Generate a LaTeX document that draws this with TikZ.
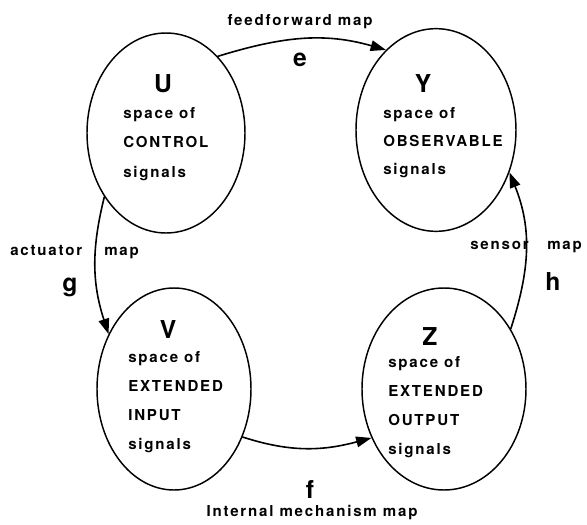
\documentclass[tikz,border=0pt]{standalone}
\usepackage{fontspec}
\setmainfont{TeX Gyre Heros}[LetterSpace=12]
\usetikzlibrary{arrows.meta,shapes.geometric}

\begin{document}
\begin{tikzpicture}[
  x=0.75pt,
  y=0.75pt,
  line join=round,
  line cap=round,
  space/.style={draw,ellipse,line width=1.1pt,inner sep=0pt},
  letter/.style={font=\fontsize{18.5}{18.5}\selectfont\bfseries,inner sep=0pt},
  caption/.style={font=\fontsize{11.3}{13}\selectfont\bfseries,anchor=base west,inner sep=0pt},
  mapname/.style={font=\fontsize{11.3}{13}\selectfont\bfseries,inner sep=0pt},
  map/.style={draw,line width=1.2pt,-{Triangle[length=11.5pt,width=8pt]}}
]
  \useasboundingbox (0,0) rectangle (587,-525);

  % The four signal spaces.
  \node[space,minimum width=118.5pt,minimum height=150pt] (U) at (166,-133) {};
  \node[space,minimum width=120pt,minimum height=152pt] (Y) at (436,-130) {};
  \node[space,minimum width=115.5pt,minimum height=151.5pt] (V) at (174,-389) {};
  \node[space,minimum width=123pt,minimum height=151.5pt] (Z) at (444,-389) {};

  % Space names and their descriptions, one line at a time.
  \node[letter,anchor=base] (U-name) at (163,-92) {U};
  \foreach \t [count=\i from 0] in {space of,CONTROL,signals}
    \node[caption] (U-\i) at (123,-118-29.5*\i) {\t};

  \node[letter,anchor=base] (Y-name) at (423,-92) {Y};
  \foreach \t [count=\i from 0] in {space of,OBSERVABLE,signals}
    \node[caption] (Y-\i) at (383,-118-28*\i) {\t};

  \node[letter,anchor=base] (V-name) at (168,-338) {V};
  \foreach \t [count=\i from 0] in {space of,EXTENDED,INPUT,signals}
    \node[caption] (V-\i) at (128,-362-29.3*\i) {\t};

  \node[letter,anchor=base] (Z-name) at (430,-345) {Z};
  \foreach \t [count=\i from 0] in {space of,EXTENDED,OUTPUT,signals}
    \node[caption] (Z-\i) at (388,-367-29.3*\i) {\t};

  % Maps between the spaces.
  \draw[map] (U.56) to[out=17,in=164] (Y.122);
  \draw[map] (U.226) to[out=256,in=108] (V.140);
  \draw[map] (V.-35) to[out=-18,in=195] (Z.214);
  \draw[map] (Z.42) to[out=72,in=292] (Y.-30);

  % Map labels.
  \node[mapname] (e-text) at (300,-22) {feedforward map};
  \node[letter] (e) at (300,-60) {e};

  \node[mapname,anchor=base west] (g-text) at (10,-255) {actuator};
  \node[mapname,anchor=base west] (g-map) at (104,-255) {map};
  \node[letter] (g) at (70,-287) {g};

  \node[mapname,anchor=base west] (h-text) at (470,-249) {sensor};
  \node[mapname,anchor=base west] (h-map) at (547,-249) {map};
  \node[letter] (h) at (553,-282) {h};

  \node[letter] (f) at (310,-490) {f};
  \node[mapname] (f-text) at (312,-513) {Internal mechanism map};
\end{tikzpicture}
\end{document}
